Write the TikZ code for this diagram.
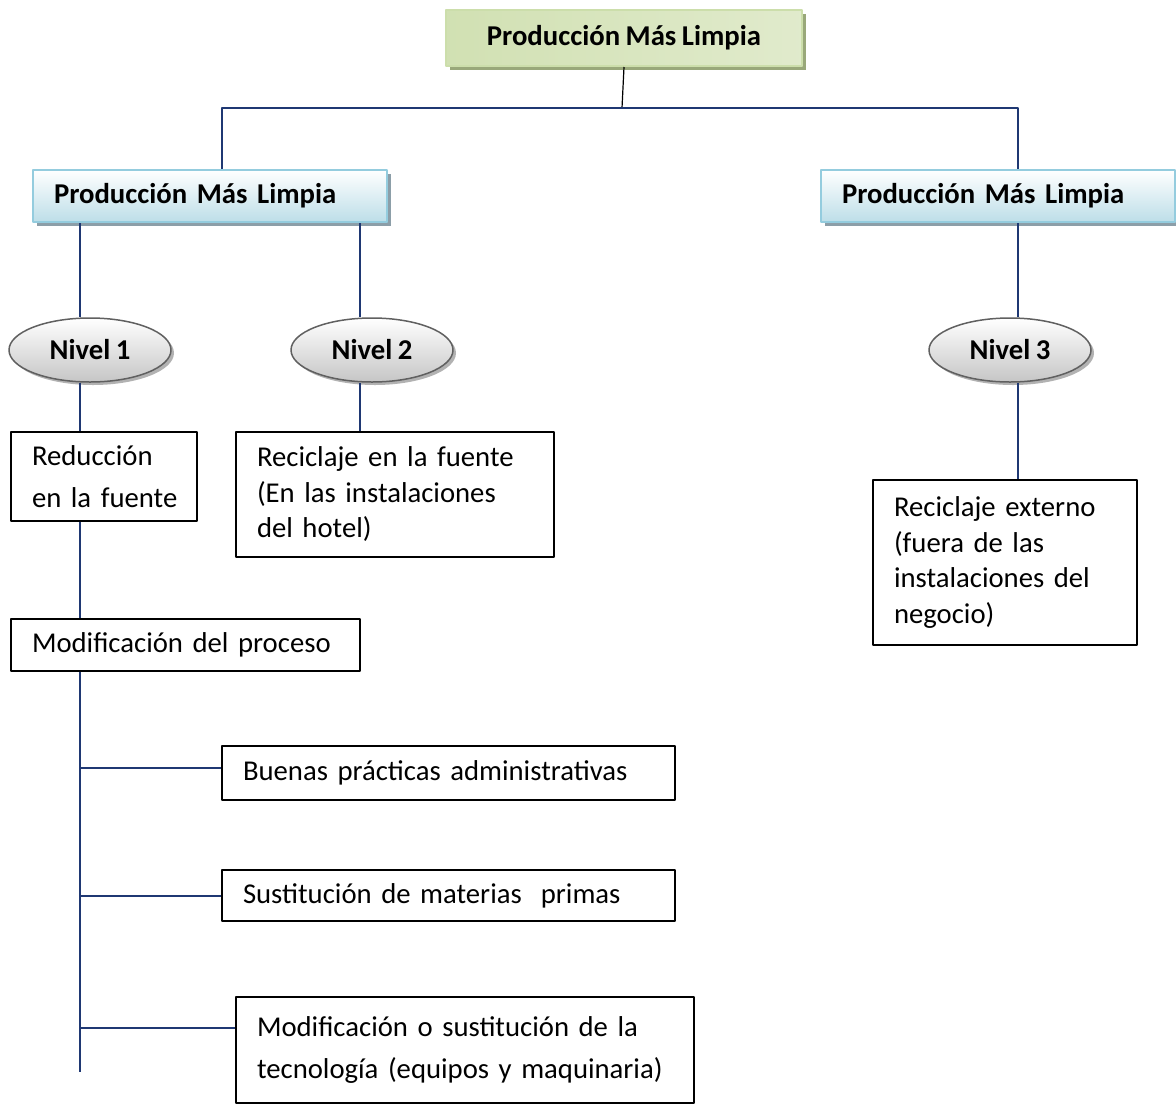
\documentclass[tikz,border=0pt]{standalone}
\usepackage{fontspec}
\setmainfont{Carlito}[WordSpace=0.85]
\usetikzlibrary{shapes.geometric}
\usetikzlibrary{shadows}
\definecolor{linkcol}{rgb}{0.12,0.22,0.45}
\definecolor{greenlight}{rgb}{0.95,0.97,0.91}
\definecolor{greendark}{rgb}{0.82,0.88,0.70}
\definecolor{greenright}{rgb}{0.88,0.92,0.80}
\definecolor{greenedge}{rgb}{0.80,0.87,0.67}
\definecolor{greenshadow}{rgb}{0.60,0.66,0.48}
\definecolor{bluelight}{rgb}{0.74,0.87,0.91}
\definecolor{blueedge}{rgb}{0.58,0.80,0.87}
\definecolor{blueshadow}{rgb}{0.55,0.62,0.66}

\begin{document}
\begin{tikzpicture}[x=1pt,y=-1pt,line join=bevel,
  every node/.style={font=\fontsize{28.7}{35.5}\selectfont},
  link/.style={linkcol,line width=1.5pt},
  topbox/.style={draw=greenedge,line width=2pt,left color=greendark,middle color=greenlight,right color=greenright,
    minimum width=356pt,minimum height=56pt,font=\fontsize{28.7}{35.5}\selectfont\bfseries,
    drop shadow={shadow xshift=4pt,shadow yshift=-4pt,fill=greenshadow,opacity=1}},
  lvlbox/.style={draw=blueedge,line width=2.5pt,top color=white,bottom color=bluelight,
    minimum height=52pt,text width=312pt,inner xsep=21pt,align=left,font=\fontsize{28.7}{35.5}\selectfont\bfseries,
    drop shadow={shadow xshift=4pt,shadow yshift=-4pt,fill=blueshadow,opacity=1}},
  nivel/.style={ellipse,draw=gray!75!black,line width=1.5pt,top color=white,bottom color=gray!45,
    minimum width=162pt,minimum height=64pt,inner sep=0pt,font=\fontsize{28.7}{35.5}\selectfont\bfseries,
    drop shadow={shadow xshift=3pt,shadow yshift=-3pt,fill=gray!60,opacity=1}},
  txtbox/.style={draw,line width=1.2pt,fill=white,align=left,inner xsep=21pt,inner ysep=0pt}]
%%
\useasboundingbox (0,0) rectangle (1176,1104);
\node (pml) at (624,38) [topbox] {Producción Más Limpia};
\node (pmlA) at (210,196) [lvlbox] {Producción Más Limpia};
\node (pmlB) at (998,196) [lvlbox] {Producción Más Limpia};
\node (niv1) at (90,350) [nivel] {Nivel 1};
\node (niv2) at (372,350) [nivel] {Nivel 2};
\node (niv3) at (1010,350) [nivel] {Nivel 3};
\node (red) at (104,476.5) [txtbox,text width=144pt,minimum height=89pt] {\mbox{Reducción}\\[6pt]\mbox{en la fuente}};
\node (fuente) at (395,494.5) [txtbox,text width=276pt,minimum height=125pt] {Reciclaje en la fuente\\(En las instalaciones\\del hotel)};
\node (externo) at (1005,562.5) [txtbox,text width=222pt,minimum height=165pt] {Reciclaje externo\\(fuera de las\\instalaciones del\\negocio)};
\node (proc) at (185.5,645) [txtbox,text width=307pt,minimum height=52pt] {Modificación del proceso};
\node (buenas) at (448.5,773) [txtbox,text width=411pt,minimum height=54pt] {Buenas prácticas administrativas};
\node (sust) at (448.5,895.5) [txtbox,text width=411pt,minimum height=51pt] {Sustitución de materias\ \ primas};
\node (tec) at (465,1050) [txtbox,text width=416pt,minimum height=106pt] {Modificación o sustitución de la\\[6pt]tecnología (equipos y maquinaria)};
%% connectors
\coordinate (hub) at (622,108);
\coordinate (b1) at (80,768);
\coordinate (b2) at (80,896);
\coordinate (b3) at (80,1028);
\coordinate (fin) at (80,1072);
\draw [line width=1.2pt] (pml.south) -- (hub);
\draw [link] ([xshift=12pt]pmlA.north) |- (hub) -| ([xshift=20pt]pmlB.north);
\draw [link] (pmlA.south -| niv1.south) ++(-10pt,0) coordinate (a1) -- (a1 |- niv1.north);
\draw [link] (pmlA.south -| niv2.south) ++(-12pt,0) coordinate (a2) -- (a2 |- niv2.north);
\draw [link] (pmlB.south -| niv3.south) ++(8pt,0) coordinate (a3) -- (a3 |- niv3.north);
\draw [link] (a1 |- niv1.south) -- (a1 |- red.north);
\draw [link] (a2 |- niv2.south) -- (a2 |- fuente.north);
\draw [link] (a3 |- niv3.south) -- (a3 |- externo.north);
\draw [link] (a1 |- red.south) -- (a1 |- proc.north);
\draw [link] (a1 |- proc.south) -- (fin);
\draw [link] (b1) -- (b1 -| buenas.west);
\draw [link] (b2) -- (b2 -| sust.west);
\draw [link] (b3) -- (b3 -| tec.west);
%
\end{tikzpicture}
\end{document}
